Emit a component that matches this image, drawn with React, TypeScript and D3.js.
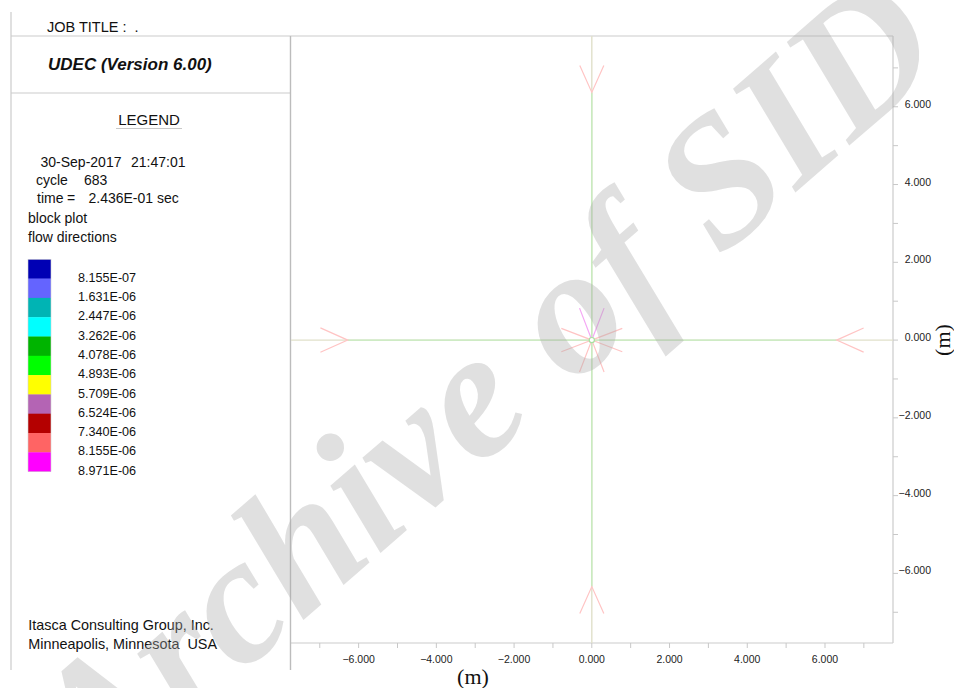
import React from "react";
import * as d3 from "d3";

// Plot window in model units (m)
const xDomain: [number, number] = [-7.74, 7.75];
const yDomain: [number, number] = [-7.79, 7.82];
const xTicks = d3.range(-7, 8, 1);
const yTicks = d3.range(-7, 8, 1);
const labelTicks = [-6, -4, -2, 0, 2, 4, 6];

// Contour legend for flow rate
const legendValues = [
  "8.155E-07", "1.631E-06", "2.447E-06", "3.262E-06", "4.078E-06", "4.893E-06",
  "5.709E-06", "6.524E-06", "7.340E-06", "8.155E-06", "8.971E-06",
];
const legendColors = [
  "#0000b4", "#6464ff", "#00b4b4", "#00ffff", "#00b400", "#00ff00",
  "#ffff00", "#b464b4", "#b40000", "#ff6464", "#ff00ff",
];

// Joint traces (cross through the model)
const joints = [
  { x1: -7.74, y1: 0, x2: 7.75, y2: 0 },
  { x1: 0, y1: -7.79, x2: 0, y2: 7.82 },
];

// Flow direction vectors: tail -> head
const flowVectors = [
  { x1: -7.74, y1: 0, x2: -6.28, y2: 0, head: 0.77, spread: 24, color: "#ffc4c4", shaft: "none" },
  { x1: 7.75, y1: 0, x2: 6.3, y2: 0, head: 0.76, spread: 24, color: "#ffc4c4", shaft: "none" },
  { x1: 0, y1: 7.82, x2: 0, y2: 6.37, head: 0.76, spread: 24, color: "#ffc4c4", shaft: "none" },
  { x1: 0, y1: -7.79, x2: 0, y2: -6.34, head: 0.76, spread: 24, color: "#ffc4c4", shaft: "none" },
  { x1: -6.28, y1: 0, x2: 0, y2: 0, head: 0.84, spread: 21, color: "#ffc4c4", shaft: "#c6ecbe" },
  { x1: 6.3, y1: 0, x2: 0, y2: 0, head: 0.84, spread: 21, color: "#ffc4c4", shaft: "#c6ecbe" },
  { x1: 0, y1: -6.34, x2: 0, y2: 0, head: 0.88, spread: 21, color: "#ffc4c4", shaft: "#c6ecbe" },
  { x1: 0, y1: 6.37, x2: 0, y2: 0, head: 0.88, spread: 21, color: "#f4a8f4", shaft: "#c6ecbe" },
];

const W = 954;
const H = 688;
const plotLeft = 291;
const plotRight = 893;
const plotTop = 36;
const plotBottom = 643;

const sans = "'Liberation Sans', Arial, sans-serif";
const serif = "'Liberation Serif', 'Times New Roman', serif";
const pre = { whiteSpace: "pre" as const };

export default function App() {
  const x = d3.scaleLinear().domain(xDomain).range([plotLeft, plotRight]);
  const y = d3.scaleLinear().domain(yDomain).range([plotBottom, plotTop]);
  const fmt = d3.format(".3f");

  const legendY = d3
    .scaleBand<number>()
    .domain(d3.range(legendValues.length))
    .range([259.3, 259.3 + 19.3 * legendValues.length])
    .padding(0);

  const armPath = (v: typeof flowVectors[number]) => {
    const ang = Math.atan2(v.y2 - v.y1, v.x2 - v.x1);
    const sp = (v.spread * Math.PI) / 180;
    const a1 = ang + Math.PI - sp;
    const a2 = ang + Math.PI + sp;
    const p = d3.path();
    p.moveTo(x(v.x2 + v.head * Math.cos(a1)), y(v.y2 + v.head * Math.sin(a1)));
    p.lineTo(x(v.x2), y(v.y2));
    p.lineTo(x(v.x2 + v.head * Math.cos(a2)), y(v.y2 + v.head * Math.sin(a2)));
    return p.toString();
  };

  return (
    <svg
      width={W}
      height={H}
      style={{ position: "absolute", left: 0, top: 0, background: "#fff" }}
    >
      <rect width={W} height={H} fill="#fff" />

      {/* frames */}
      <g fill="none" stroke="#cbcbcb" strokeWidth={1.2}>
        <line x1={11} y1={12} x2={11} y2={670} />
        <line x1={11} y1={plotTop} x2={plotRight} y2={plotTop} />
        <line x1={11} y1={93} x2={290} y2={93} />
        <line x1={plotRight} y1={plotTop} x2={plotRight} y2={plotBottom} />
        <line x1={290} y1={plotBottom} x2={plotRight} y2={plotBottom} />
      </g>
      <line x1={290.5} y1={plotTop} x2={290.5} y2={670} stroke="#bcbcbc" strokeWidth={1.4} />

      {/* header */}
      <text x={47} y={32.3} fontFamily={sans} fontSize={14.5} fill="#111" style={pre}>
        {"JOB TITLE :  ."}
      </text>
      <text x={48} y={70} fontFamily={sans} fontSize={17} fontWeight="bold" fontStyle="italic" fill="#111">
        UDEC (Version 6.00)
      </text>
      <text x={149} y={124.7} textAnchor="middle" fontFamily={sans} fontSize={15} fill="#111">
        LEGEND
      </text>
      <line x1={116} y1={128.5} x2={182} y2={128.5} stroke="#c8c8c8" strokeWidth={1} />

      <g fontFamily={sans} fontSize={14} fill="#111">
        <text x={40.5} y={166.7}>30-Sep-2017</text>
        <text x={131} y={166.7}>21:47:01</text>
        <text x={36} y={185}>cycle</text>
        <text x={84} y={185}>683</text>
        <text x={37} y={203}>time</text>
        <text x={67} y={203}>=</text>
        <text x={88.5} y={203}>2.436E-01 sec</text>
        <text x={28} y={222.5}>block plot</text>
        <text x={28} y={242}>flow directions</text>
      </g>

      {/* legend swatches */}
      <g>
        {legendColors.map((c, i) => (
          <rect
            key={i}
            x={28}
            y={legendY(i)}
            width={23}
            height={legendY.bandwidth() + 0.3}
            fill={c}
          />
        ))}
        <rect
          x={28}
          y={legendY(0)}
          width={23}
          height={legendY.bandwidth() * legendValues.length}
          fill="none"
          stroke="#d0d0d0"
          strokeWidth={0.6}
        />
      </g>
      <g fontFamily={sans} fontSize={12.6} fill="#111">
        {legendValues.map((v, i) => (
          <text key={v + i} x={78} y={(legendY(i) as number) + legendY.bandwidth() + 3.1}>
            {v}
          </text>
        ))}
      </g>

      <g fontFamily={sans} fontSize={14.4} fill="#111">
        <text x={28.3} y={630} style={pre}>{"Itasca Consulting Group, Inc."}</text>
        <text x={28.3} y={648.5} style={pre}>{"Minneapolis, Minnesota  USA"}</text>
      </g>

      {/* joints */}
      <g stroke="#e0e0ca" strokeWidth={1.4}>
        {joints.map((j, i) => (
          <line key={i} x1={x(j.x1)} y1={y(j.y1)} x2={x(j.x2)} y2={y(j.y2)} />
        ))}
      </g>

      {/* flow vectors */}
      <g fill="none" strokeWidth={1.2}>
        {flowVectors
          .filter((v) => v.shaft !== "none")
          .map((v, i) => (
            <line key={"s" + i} x1={x(v.x1)} y1={y(v.y1)} x2={x(v.x2)} y2={y(v.y2)} stroke={v.shaft} strokeWidth={1.4} />
          ))}
        {flowVectors.map((v, i) => (
          <path key={"h" + i} d={armPath(v)} stroke={v.color} />
        ))}
      </g>
      <circle cx={x(0)} cy={y(0)} r={2.6} fill="#fff" stroke="#a8e0a0" strokeWidth={1.2} />

      {/* bottom axis */}
      <g stroke="#c8c8c8" strokeWidth={1}>
        {xTicks.map((t) => (
          <line key={t} x1={x(t)} y1={plotBottom} x2={x(t)} y2={plotBottom + 5} />
        ))}
      </g>
      <g fontFamily={sans} fontSize={10.5} fill="#222" textAnchor="middle">
        {labelTicks.map((t) => (
          <text key={t} x={x(t)} y={662.8}>
            {fmt(t)}
          </text>
        ))}
      </g>
      <text x={473} y={684} textAnchor="middle" fontFamily={serif} fontSize={22} fill="#111">
        (m)
      </text>

      {/* right axis */}
      <g stroke="#c8c8c8" strokeWidth={1}>
        {yTicks.map((t) => (
          <line key={t} x1={plotRight} y1={y(t)} x2={plotRight + 5} y2={y(t)} />
        ))}
      </g>
      <g fontFamily={sans} fontSize={10.5} fill="#222" textAnchor="end">
        {labelTicks.map((t) => (
          <text key={t} x={931} y={y(t) + 1}>
            {fmt(t)}
          </text>
        ))}
      </g>
      <text
        transform="translate(949.5,340) rotate(-90)"
        textAnchor="middle"
        fontFamily={serif}
        fontSize={22}
        fill="#111"
      >
        (m)
      </text>

      {/* watermark */}
      <text
        transform="translate(522,430) rotate(-41)"
        textAnchor="middle"
        fontFamily={serif}
        fontSize={182}
        fontWeight="bold"
        fontStyle="italic"
        fill="#a8a8a8"
        fillOpacity={0.36}
      >
        Archive of SID
      </text>
    </svg>
  );
}
